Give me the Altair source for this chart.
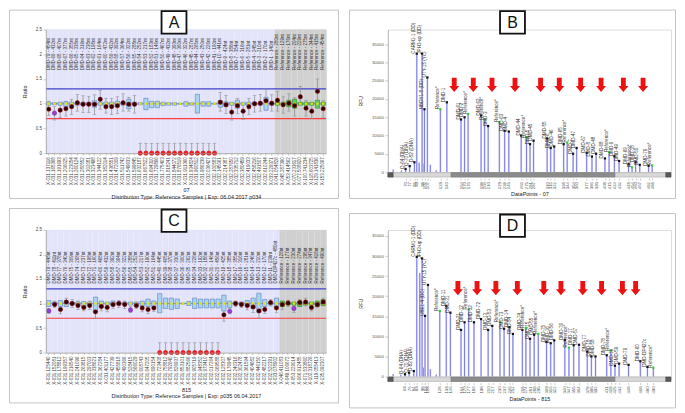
import altair as alt
import pandas as pd

FONT = "Liberation Sans"
ARROW = "M-0.34,-1L0.34,-1L0.34,0.16L0.7,0.16L0,1L-0.7,0.16L-0.34,0.16Z"

# ---------------- Panel A : ratio chart, probemix P034 ----------------
a_samples = [
    "X-031.137116", "X-031.165368", "X-031.191693", "X-031.206025", "X-031.223054", "X-031.260124",
    "X-031.280552", "X-031.302081", "X-031.323498", "X-031.344122", "X-031.382014", "X-031.436551",
    "X-031.472009", "X-031.511742", "X-031.549633", "X-031.599845", "X-031.632187", "X-031.667522",
    "X-031.694310", "X-031.729866", "X-031.775403", "X-031.818241", "X-031.844072", "X-031.876519",
    "X-031.911360", "X-031.934824", "X-031.960512", "X-031.986239", "X-032.036427", "X-032.100583",
    "X-032.145061", "X-032.214387", "X-032.287650", "X-032.335712", "X-032.380459", "X-032.419033",
    "X-032.458216", "X-032.491507", "X-032.610244", "X-033.229371",
    "X-041.054826", "X-048.287390", "X-053.414562", "X-070.233617", "X-077.508920", "X-100.741234",
    "X-118.603725", "X-129.141836", "X-153.225067"]
a_probes = [
    "DMD-79 - 454nt", "DMD-69 - 432nt", "DMD-68 - 407nt", "DMD-67 - 377nt", "DMD-66 - 355nt",
    "DMD-65 - 338nt", "DMD-64 - 319nt", "DMD-63 - 238nt", "DMD-62 - 198nt", "DMD-61 - 164nt",
    "DMD-60 - 472nt", "DMD-59 - 432nt", "DMD-58 - 392nt", "DMD-57 - 364nt", "DMD-56 - 322nt",
    "DMD-55 - 288nt", "DMD-54 - 252nt", "DMD-53 - 217nt", "DMD-52 - 183nt", "DMD-51 - 146nt",
    "DMD-50 - 467nt", "DMD-49 - 432nt", "DMD-48 - 393nt", "DMD-47 - 360nt", "DMD-46 - 322nt",
    "DMD-45 - 287nt", "DMD-44 - 265nt", "DMD-43 - 250nt", "DMD-42 - 226nt", "DMD-41 - 190nt",
    "DMD-10 - 441nt", "DMD-9 - 424nt", "DMD-8 - 386nt", "DMD-7 - 354nt", "DMD-6 - 316nt",
    "DMD-5 - 281nt", "DMD-4 - 245nt", "DMD-3 - 210nt", "DMD-2 - 170nt", "DMD-1 - 140nt",
    "Reference - 280nt", "Reference - 129nt", "Reference - 176nt", "Reference - 204nt",
    "Reference - 229nt", "Reference - 275nt", "Reference - 344nt", "Reference - 415nt",
    "Reference - 454nt"]
a_n_probe = 40
a_purple = [1]
a_ratio = [0.89, 0.81, 0.87, 0.90, 0.94, 1.02, 0.99, 0.99, 0.99, 1.09, 0.94, 0.94, 0.96, 1.02, 0.99, 0.99,
           0, 0, 0, 0, 0, 0, 0, 0, 0, 0, 0, 0, 0, 0,
           1.03, 0.98, 0.83, 0.96, 0.85, 0.94, 1.00, 1.01, 1.06, 1.01,
           1.07, 0.98, 1.01, 0.96, 1.14, 0.91, 0.85, 1.25, 0.90]
a_err_lo = [0.76, 0.67, 0.72, 0.75, 0.78, 0.85, 0.82, 0.82, 0.78, 0.89, 0.81, 0.78, 0.80, 0.85, 0.85, 0.81,
            0, 0, 0, 0, 0, 0, 0, 0, 0, 0, 0, 0, 0, 0,
            0.85, 0.80, 0.67, 0.80, 0.68, 0.78, 0.83, 0.85, 0.87, 0.85,
            0.85, 0.81, 0.85, 0.75, 0.98, 0.75, 0.70, 1.01, 0.73]
a_err_hi = [1.05, 0.94, 1.01, 1.04, 1.09, 1.19, 1.16, 1.15, 1.18, 1.27, 1.11, 1.11, 1.14, 1.20, 1.13, 1.17,
            0.2, 0.2, 0.2, 0.2, 0.2, 0.2, 0.2, 0.2, 0.2, 0.2, 0.2, 0.2, 0.2, 0.2,
            1.23, 1.17, 1.01, 1.11, 0.99, 1.11, 1.17, 1.19, 1.30, 1.18,
            1.25, 1.14, 1.20, 1.12, 1.35, 1.07, 1.01, 1.50, 1.06]
a_box_lo = [0.97, 0.98, 0.97, 0.94, 0.97, 0.97, 0.97, 0.97, 0.93, 0.97, 0.97, 0.97, 0.94, 0.97, 0.90, 0.97,
            0.98, 0.88, 0.92, 0.92, 0.96, 0.97, 0.97, 0.99, 0.95, 0.97, 0.81, 0.95, 0.95, 0.99,
            0.93, 0.94, 0.97, 0.91, 0.97, 0.97, 0.97, 0.97, 0.87, 0.97,
            0.97, 0.97, 0.94, 0.91, 0.97, 0.97, 0.97, 0.91, 0.97]
a_box_hi = [1.03, 1.02, 1.03, 1.04, 1.03, 1.03, 1.03, 1.03, 1.06, 1.03, 1.03, 1.03, 1.05, 1.03, 1.09, 1.03,
            1.02, 1.11, 1.05, 1.05, 1.03, 1.02, 1.02, 1.01, 1.04, 1.02, 1.19, 1.04, 1.04, 1.01,
            1.06, 1.04, 1.03, 1.07, 1.03, 1.03, 1.03, 1.03, 1.13, 1.03,
            1.03, 1.03, 1.07, 1.09, 1.03, 1.03, 1.03, 1.07, 1.03]

# ---------------- Panel C : ratio chart, probemix P035 ----------------
c_samples = [
    "X-031.125440", "X-031.152081", "X-031.178812", "X-031.199357", "X-031.216540", "X-031.241096",
    "X-031.263815", "X-031.297003", "X-031.338621", "X-031.367284", "X-031.401177", "X-031.427739",
    "X-031.455818", "X-031.490366", "X-031.528415", "X-031.566029", "X-031.608743", "X-031.647205",
    "X-031.690154", "X-031.723408", "X-031.758812", "X-031.792640", "X-031.826937", "X-031.853101",
    "X-031.882566", "X-031.905719", "X-031.948352", "X-031.973410", "X-032.017264", "X-032.069588",
    "X-032.128307", "X-032.176945", "X-032.240316", "X-032.302478", "X-032.361594", "X-032.404682",
    "X-032.446150", "X-032.482217", "X-032.520391", "X-033.078902",
    "X-046.411083", "X-049.106672", "X-053.229014", "X-066.912485", "X-071.533860", "X-102.318726",
    "X-119.055413", "X-135.092307"]
c_probes = [
    "DMD-79 - 448nt", "DMD-78 - 411nt", "DMD-77 - 378nt", "DMD-76 - 340nt", "DMD-75 - 309nt",
    "DMD-74 - 268nt", "DMD-73 - 237nt", "DMD-72 - 198nt", "DMD-71 - 160nt",
    "DMD-60 - 468nt", "DMD-59 - 432nt", "DMD-58 - 392nt", "DMD-57 - 364nt", "DMD-56 - 322nt",
    "DMD-55 - 288nt", "DMD-54 - 252nt", "DMD-53 - 217nt", "DMD-52 - 190nt", "DMD-51 - 164nt",
    "DMD-40 - 445nt", "DMD-39 - 405nt", "DMD-38 - 370nt", "DMD-37 - 330nt", "DMD-36 - 300nt",
    "DMD-35 - 262nt", "DMD-34 - 226nt", "DMD-33 - 192nt", "DMD-32 - 186nt", "DMD-31 - 146nt",
    "DMD-20 - 456nt", "DMD-19 - 425nt", "DMD-18 - 385nt", "DMD-17 - 355nt", "DMD-16 - 316nt",
    "DMD-15 - 281nt", "DMD-14 - 246nt", "DMD-13 - 210nt", "DMD-12 - 170nt", "DMD-11 - 139nt",
    "DMD-DP427c - 480nt",
    "Reference - 128nt", "Reference - 177nt", "Reference - 230nt", "Reference - 274nt",
    "Reference - 295nt", "Reference - 347nt", "Reference - 418nt", "Reference - 490nt"]
c_n_probe = 40
c_purple = [0, 14, 31, 42]
c_ratio = [0.85, 0.98, 0.88, 1.03, 1.00, 0.96, 0.92, 0.96, 0.83, 0.94, 0.92, 0.98, 1.00, 0.98, 0.87,
           0.96, 0.91, 0.88, 0.91,
           0, 0, 0, 0, 0, 0, 0, 0, 0, 0, 0,
           0.77, 0.84, 1.00, 0.98, 0.96, 0.93, 0.85, 0.88, 1.02, 0.91,
           0.98, 1.01, 0.90, 1.02, 1.03, 0.92, 0.98, 1.03]
c_err_lo = [0.80, 0.92, 0.79, 0.95, 0.92, 0.88, 0.85, 0.88, 0.70, 0.85, 0.83, 0.90, 0.92, 0.90, 0.82,
            0.90, 0.83, 0.79, 0.84,
            0, 0, 0, 0, 0, 0, 0, 0, 0, 0, 0,
            0.64, 0.79, 0.94, 0.92, 0.87, 0.82, 0.70, 0.80, 0.95, 0.81,
            0.88, 0.94, 0.82, 0.94, 0.95, 0.85, 0.92, 0.95]
c_err_hi = [0.90, 1.05, 0.98, 1.11, 1.08, 1.05, 0.98, 1.05, 0.95, 1.02, 1.00, 1.05, 1.06, 1.05, 0.94,
            1.03, 0.99, 0.96, 1.00,
            0.2, 0.2, 0.2, 0.2, 0.2, 0.2, 0.2, 0.2, 0.2, 0.2, 0.2,
            0.85, 0.90, 1.05, 1.03, 1.05, 1.05, 0.98, 0.96, 1.08, 1.00,
            1.05, 1.07, 0.96, 1.08, 1.11, 0.98, 1.05, 1.11]
c_box_lo = [0.94, 0.97, 0.94, 0.94, 0.97, 0.97, 0.92, 0.97, 0.82, 0.92, 0.97, 0.95, 0.97, 0.97, 0.97,
            0.94, 0.95, 0.94, 0.92,
            0.81, 0.90, 0.88, 0.90, 0.99, 0.96, 0.90, 0.91, 0.91, 0.91, 0.91,
            0.85, 0.92, 0.97, 0.97, 0.94, 0.90, 0.82, 0.94, 0.97, 0.92,
            0.94, 0.97, 0.97, 0.94, 0.97, 0.97, 0.94, 0.96]
c_box_hi = [1.06, 1.03, 1.06, 1.05, 1.03, 1.03, 1.04, 1.03, 1.13, 1.05, 1.03, 1.05, 1.03, 1.03, 1.03,
            1.03, 1.05, 1.09, 1.05,
            1.20, 1.11, 1.11, 1.09, 1.01, 1.04, 1.11, 1.09, 1.09, 1.09, 1.09,
            1.17, 1.05, 1.03, 1.03, 1.06, 1.11, 1.21, 1.08, 1.03, 1.11,
            1.05, 1.03, 1.03, 1.05, 1.03, 1.03, 1.05, 1.08]

ratio_upper = [1.3]
ratio_normal = [1.0]
ratio_lower = [0.7]

# ---------------- Panel B : electropherogram 07 ----------------
b_sizes = [70, 77, 85, 89, 98, 102, 107, 129, 140, 164, 170, 176, 198, 204, 210, 229, 238, 245,
           266, 275, 281, 287, 310, 316, 322, 338, 344, 354, 360, 377, 386, 393, 408, 415, 424, 432,
           448, 454, 460, 467, 482, 488]
b_heights = [870, 1650, 2700, 32400, 32400, 17200, 25900, 17200, 19100, 14400, 15000, 15900, 15500,
             14300, 12600, 13700, 11300, 11100, 10000, 9400, 7650, 8600, 9200, 6600, 7000, 7650, 8100,
             5040, 6600, 5300, 4260, 5040, 3740, 5480, 4350, 3040, 2170, 1300, 2700, 2000, 1740, 1830]
b_labels = ["Q-64 (DNA)", "Q-70 (DNA)", "D-82 (DNA)", "CARM1-1 (DD)", "JPH3-up (DD)", "NBDY1-8 (DD)",
            "UTY-15 (YC)", "Reference*", "DMD-1", "DMD-61", "DMD-2", "Reference*", "DMD-62",
            "Reference*", "DMD-3", "Reference*", "DMD-63", "DMD-4", "DMD-44", "Reference*", "DMD-5",
            "DMD-45", "DMD-55", "DMD-6", "DMD-46", "DMD-65", "Reference*", "DMD-7", "DMD-47", "DMD-67",
            "DMD-8", "DMD-48", "DMD-68", "Reference*", "DMD-9", "DMD-49", "DMD-69", "Reference*",
            "DMD-18", "DMD-50", "DMD-79", "Reference*"]
b_small_sizes = [49, 63, 93, 100, 112, 122]
b_small_heights = [700, 450, 2600, 2300, 2000, 500]
b_arrow_x = [152.5, 184.8, 216.5, 255.5, 298.9, 330.6, 366.8, 401.4, 439.2, 472.6]
b_arrow_y = 23850
b_ymax = 39000

# ---------------- Panel D : electropherogram 815 ----------------
d_sizes = [69, 76, 84, 89, 98, 103, 108, 128, 139, 146, 164, 170, 177, 186, 198, 210, 217, 230, 237,
           246, 252, 268, 274, 281, 288, 295, 309, 316, 322, 340, 347, 355, 364, 378, 385, 392, 411,
           418, 425, 432, 448, 468, 480, 490]
d_heights = [560, 960, 1360, 29800, 29400, 15100, 22800, 16300, 17500, 15900, 11600, 13500, 16700,
             13500, 14300, 11600, 12600, 13500, 11900, 12300, 10600, 11600, 12100, 9400, 10400, 10600,
             8600, 8300, 9000, 9100, 7200, 7800, 7900, 6200, 5000, 5000, 5300, 6400, 2700, 3200, 2900,
             3800, 2400, 2200]
d_labels = ["Q-64 (DNA)", "Q-70 (DNA)", "D-82 (DNA)", "CARM1-1 (DD)", "JPH3-up (DD)", "UBE1-4 (DC)",
            "UTY-15 (YC)", "Reference*", "DMD-11", "DMD-31", "DMD-21", "DMD-12", "Reference*", "DMD-32",
            "DMD-72", "DMD-13", "DMD-53", "Reference*", "DMD-73", "DMD-14", "DMD-54", "DMD-74",
            "Reference*", "DMD-15", "DMD-55", "Reference*", "DMD-75", "DMD-16", "DMD-56", "DMD-76",
            "Reference*", "DMD-17", "DMD-57", "DMD-77", "DMD-18", "DMD-58", "DMD-78", "Reference*",
            "DMD-19", "DMD-59", "DMD-79", "DMD-60", "DMD-DP427c", "Reference*"]
d_small_sizes = [49, 62, 94, 100, 112, 122]
d_small_heights = [600, 450, 25800, 2200, 1800, 500]
d_arrow_x = [158.7, 191.2, 223.1, 259.5, 304.3, 333.4, 370.4, 402.3, 437.6, 460.0]
d_arrow_y = 22000
d_ymax = 36500

size_domain = [40, 520]
scroll_thumb = [147, 425]


def decor(letter, W, H, L, T, R, B):
    fw = L + W + R
    cx = -L + fw / 2
    d = pd.DataFrame({"letter": [letter]})
    frame = alt.Chart(d).mark_rect(fillOpacity=0, stroke="#c4c4c4", strokeWidth=1).encode(
        x=alt.value(-L + 0.5), x2=alt.value(W + R - 0.5),
        y=alt.value(-T + 0.5), y2=alt.value(H + B - 0.5))
    box = alt.Chart(d).mark_rect(fill="white", stroke="#111111", strokeWidth=1.8).encode(
        x=alt.value(cx - 12.5), x2=alt.value(cx + 12.5),
        y=alt.value(-T + 1.5), y2=alt.value(-T + 24))
    txt = alt.Chart(d).mark_text(font=FONT, fontSize=16, align="center", baseline="middle",
                                 color="#111111").encode(
        x=alt.value(cx), y=alt.value(-T + 13.5), text="letter:N")
    return [frame, box, txt]


def ratio_panel(samples, probes, n_probe, purple, ratio, elo, ehi, blo, bhi, letter, xtitle, sub,
                W, H, L, T, R, B, label_y):
    df = pd.DataFrame(dict(sample=samples, probe=probes, ratio=ratio, elo=elo, ehi=ehi,
                           blo=blo, bhi=bhi))
    df["group"] = ["probe" if i < n_probe else "ref" for i in range(len(df))]
    df["kind"] = ["z" if r == 0 else ("p" if i in purple else "n") for i, r in enumerate(ratio)]

    xs = alt.Scale(domain=samples, paddingInner=0, paddingOuter=0)
    xaxis = alt.Axis(labelAngle=270, labelAlign="right", labelBaseline="middle", labelFontSize=4.5,
                     labelColor="#444444", labelFont=FONT, labelPadding=1.5, labelOverlap=False,
                     tickSize=2, tickColor="#999999", tickWidth=0.5, domainColor="#999999",
                     domainWidth=0.7, grid=False, zindex=1, titleFont=FONT, titleFontSize=5.5,
                     titleFontWeight="normal", titleColor="#222222", titlePadding=3,
                     titleLineHeight=6.5)
    X = alt.X("sample:N", scale=xs, axis=xaxis, title=[xtitle, sub])
    ys = alt.Scale(domain=[0, 2.5], nice=False)
    yaxis = alt.Axis(values=[0, 0.5, 1, 1.5, 2, 2.5], format="~g", labelFontSize=4.5,
                     labelColor="#444444", labelFont=FONT, labelPadding=1.5, tickSize=3,
                     tickColor="#999999", tickWidth=0.5, domainColor="#999999", domainWidth=0.7,
                     grid=False, zindex=1, titleFont=FONT, titleFontSize=5.5,
                     titleFontWeight="normal", titleColor="#222222", titlePadding=8)

    def Yf(f):
        return alt.Y(f, type="quantitative", scale=ys, axis=yaxis, title="Ratio")

    def Yd(v):
        return alt.YDatum(v, type="quantitative", scale=ys, axis=yaxis, title="Ratio")

    base = alt.Chart(df)
    layers = [
        base.transform_filter("datum.group == 'probe'").mark_rect(color="#e3e3fa").encode(
            x=X, y=Yd(2.5), y2=alt.datum(0)),
        base.transform_filter("datum.group == 'ref'").mark_rect(color="#d0d0d0").encode(
            x=X, y=Yd(2.5), y2=alt.datum(0)),
        alt.Chart(pd.DataFrame({"v": ratio_upper})).mark_rule(color="#4343c9", strokeWidth=1.2)
        .encode(y=Yf("v")),
        alt.Chart(pd.DataFrame({"v": ratio_lower})).mark_rule(color="#ff3b3b", strokeWidth=1.2)
        .encode(y=Yf("v")),
        alt.Chart(pd.DataFrame({"v": ratio_normal})).mark_rule(color="#9a9ab0", strokeWidth=1)
        .encode(y=Yf("v")),
        base.mark_rule(color="#8a8a8a", strokeWidth=0.7).encode(x=X, y=Yf("elo"), y2="ehi"),
        base.mark_tick(color="#8a8a8a", thickness=0.7, size=3.6, orient="horizontal")
        .encode(x=X, y=Yf("ehi")),
        base.mark_tick(color="#8a8a8a", thickness=0.7, size=3.6, orient="horizontal")
        .encode(x=X, y=Yf("elo")),
        base.transform_filter("datum.group == 'probe'").mark_bar(
            size=4.3, fill="#a8d4f3", stroke="#5b80b8", strokeWidth=0.6).encode(
            x=X, y=Yf("blo"), y2="bhi"),
        base.transform_filter("datum.group == 'ref'").mark_bar(
            size=4.3, fill="#62c862", stroke="#2e8b2e", strokeWidth=0.6).encode(
            x=X, y=Yf("blo"), y2="bhi"),
        base.mark_square(size=5, color="#e4e400", opacity=1).encode(x=X, y=Yd(1.0)),
        base.transform_filter("datum.kind == 'n'").mark_circle(
            size=19, fill="#2a0505", stroke="#b00000", strokeWidth=0.5, opacity=1).encode(
            x=X, y=Yf("ratio")),
        base.transform_filter("datum.kind == 'p'").mark_circle(
            size=19, fill="#9b3fd2", stroke="#6a1fa0", strokeWidth=0.5, opacity=1).encode(
            x=X, y=Yf("ratio")),
        base.transform_filter("datum.kind == 'z'").mark_circle(
            size=19, fill="#ff1a1a", stroke="#c00000", strokeWidth=0.5, opacity=1).encode(
            x=X, y=Yf("ratio")),
        base.mark_text(angle=270, align="left", baseline="middle", font=FONT, fontSize=4.5,
                       color="#333333").encode(x=X, y=Yd(label_y), text="probe:N"),
    ]
    layers += decor(letter, W, H, L, T, R, B)
    return alt.layer(*layers).properties(width=W, height=H)


def electro_panel(sizes, heights, labels, small_sizes, small_heights, arrow_x, arrow_y, ymax,
                  letter, xtitle, W, H, L, T, R, B):
    df = pd.DataFrame(dict(size=sizes, height=heights, label=labels))
    df["ref"] = [lab.startswith("Reference") for lab in labels]
    small = pd.DataFrame(dict(size=small_sizes, height=small_heights))
    arrows = pd.DataFrame(dict(size=arrow_x, height=[arrow_y] * len(arrow_x)))
    scroll = pd.DataFrame(dict(part=["track", "thumb", "btn", "btn"],
                               s0=[size_domain[0], scroll_thumb[0], size_domain[0], size_domain[1] - 9],
                               s1=[size_domain[1], scroll_thumb[1], size_domain[0] + 9, size_domain[1]]))

    xs = alt.Scale(domain=size_domain, nice=False, zero=False)
    xaxis = alt.Axis(values=sizes, format=".0f", labelAngle=270, labelAlign="right",
                     labelBaseline="middle", labelFontSize=4.3, labelColor="#555555",
                     labelFont=FONT, labelPadding=1.5, labelOverlap=False, tickSize=2,
                     tickColor="#999999", tickWidth=0.5, domain=False, offset=6, grid=False,
                     titleFont=FONT, titleFontSize=5.5, titleFontWeight="normal",
                     titleColor="#222222", titlePadding=3)
    ys = alt.Scale(domain=[0, ymax], nice=False)
    yaxis = alt.Axis(values=[0, 5000, 10000, 15000, 20000, 25000, 30000, 35000], format="d",
                     labelFontSize=4.3, labelColor="#555555", labelFont=FONT, labelPadding=1.5,
                     tickSize=3, tickColor="#999999", tickWidth=0.5, domainColor="#aaaaaa",
                     domainWidth=0.7, grid=False, zindex=1, titleFont=FONT, titleFontSize=5,
                     titleFontWeight="normal", titleColor="#222222", titlePadding=8)

    def Xf(f):
        return alt.X(f, type="quantitative", scale=xs, axis=xaxis, title=xtitle)

    def Yf(f):
        return alt.Y(f, type="quantitative", scale=ys, axis=yaxis, title="RFU")

    layers = []
    for data in (small, df):
        layers.append(alt.Chart(data).mark_rule(color="#d6d6f8", strokeWidth=1.8).encode(
            x=Xf("size"), y=Yf("height"), y2=alt.datum(0)))
        layers.append(alt.Chart(data).mark_rule(color="#6464e0", strokeWidth=0.8).encode(
            x=Xf("size"), y=Yf("height"), y2=alt.datum(0)))
    base = alt.Chart(df)
    layers += [
        base.transform_filter("!datum.ref").mark_square(size=5, color="#111111", opacity=1)
        .encode(x=Xf("size"), y=Yf("height")),
        base.transform_filter("datum.ref").mark_square(size=5, color="#33cc33", opacity=1)
        .encode(x=Xf("size"), y=Yf("height")),
        base.mark_text(angle=270, align="left", baseline="middle", font=FONT, fontSize=4.6,
                       color="#333333", dy=-2.5).encode(x=Xf("size"), y=Yf("height"), text="label:N"),
        alt.Chart(arrows).mark_point(shape=ARROW, size=205, filled=True, fill="#ee1111",
                                     strokeWidth=0, opacity=1).encode(x=Xf("size"), y=Yf("height")),
    ]
    colors = {"track": ("#d8d8d8", "#a0a0a0"), "thumb": ("#8c8c8c", "#777777"),
              "btn": ("#5a5a5a", "#444444")}
    for part, (fill, stroke) in colors.items():
        layers.append(alt.Chart(scroll).transform_filter(f"datum.part == '{part}'").mark_rect(
            fill=fill, stroke=stroke, strokeWidth=0.5).encode(
            x=Xf("s0"), x2="s1", y=alt.value(H + 0.5), y2=alt.value(H + 5)))
    layers += decor(letter, W, H, L, T, R, B)
    return alt.layer(*layers).properties(width=W, height=H)


panel_a = ratio_panel(a_samples, a_probes, a_n_probe, a_purple, a_ratio, a_err_lo, a_err_hi,
                      a_box_lo, a_box_hi, "A", "07",
                      "Distribution Type: Reference Samples | Exp: 06.04.2017 p034",
                      W=281, H=124, L=37, T=20, R=13, B=46, label_y=1.68)
panel_c = ratio_panel(c_samples, c_probes, c_n_probe, c_purple, c_ratio, c_err_lo, c_err_hi,
                      c_box_lo, c_box_hi, "C", "815",
                      "Distribution Type: Reference Samples | Exp: p035 06.04.2017",
                      W=281, H=123, L=37, T=22, R=13, B=51, label_y=1.41)
panel_b = electro_panel(b_sizes, b_heights, b_labels, b_small_sizes, b_small_heights, b_arrow_x,
                        b_arrow_y, b_ymax, "B", "DataPoints - 07",
                        W=284, H=143, L=39, T=20, R=5, B=27)
panel_d = electro_panel(d_sizes, d_heights, d_labels, d_small_sizes, d_small_heights, d_arrow_x,
                        d_arrow_y, d_ymax, "D", "DataPoints - 815",
                        W=284, H=147, L=39, T=17, R=5, B=32)

chart = alt.vconcat(
    alt.hconcat(panel_a, panel_b, spacing=8),
    alt.hconcat(panel_c, panel_d, spacing=8),
    spacing=6,
).properties(padding=0).configure_view(strokeWidth=0).configure(font=FONT)

chart.save("out.html", embed_options={"renderer": "svg", "actions": False})
